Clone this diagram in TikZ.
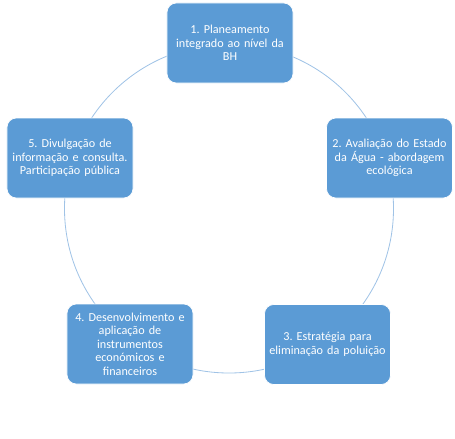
\documentclass[tikz,border=0pt]{standalone}
\usepackage{fontspec}
\setmainfont{Carlito}
\usepackage{tikz}
\usetikzlibrary{calc}
\frenchspacing

\definecolor{stepblue}{RGB}{91,155,213}
\definecolor{ringblue}{RGB}{160,195,230}

\tikzset{
    cyclebox/.style={draw=white, line width=0.6pt, fill=stepblue, rounded corners=0.28cm,
        minimum width=3.78cm, minimum height=2.4cm, text width=3.7cm, align=center,
        text=white, font=\fontsize{10.4}{11.6}\selectfont, inner sep=1pt},
    ring/.style={draw=ringblue, line width=0.7pt}
}

\begin{document}
\begin{tikzpicture}[x=0.03cm,y=0.03cm]
        \useasboundingbox (-229,-229.5) rectangle (226,208.5);
        \coordinate (c) at (0,0);
        \draw[ring] (c) circle[radius=4.935cm];
        \node[cyclebox] (plan) at (1,165.5) {1. Planeamento\\ integrado ao nível da\\ BH};
        \node[cyclebox] (aval) at (160.5,50.5) {2. Avaliação do Estado\\ da Água - abordagem\\ ecológica};
        \node[cyclebox] (estr) at (98.5,-136) {3. Estratégia para\\ eliminação da poluição};
        \node[cyclebox] (inst) at (-99,-135.5) {4. Desenvolvimento e\\ aplicação de\\ instrumentos\\ económicos e\\ financeiros};
        \node[cyclebox] (divu) at (-159,50.5) {5. Divulgação de\\ informação e consulta.\\ Participação pública};
    \end{tikzpicture}
\end{document}
